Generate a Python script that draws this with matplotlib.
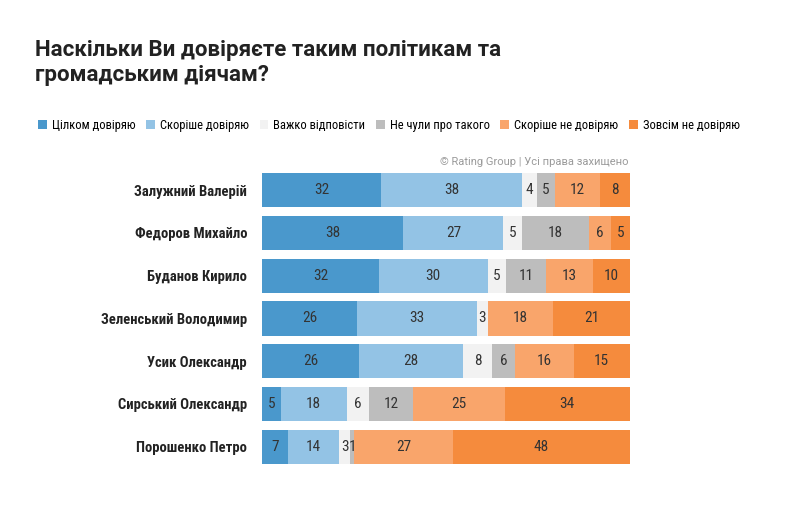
import matplotlib.pyplot as plt
from matplotlib import font_manager
import numpy as np

available = {f.name for f in font_manager.fontManager.ttflist}
narrow = 'Roboto'
for cand in ['Roboto Condensed', 'Liberation Sans Narrow']:
    if cand in available:
        narrow = cand
        break
plt.rcParams['font.family'] = [narrow, 'Roboto', 'DejaVu Sans']

# Data (percent)
names = ['Залужний Валерій', 'Федоров Михайло', 'Буданов Кирило',
         'Зеленський Володимир', 'Усик Олександр', 'Сирський Олександр',
         'Порошенко Петро']
categories = ['Цілком довіряю', 'Скоріше довіряю', 'Важко відповісти',
              'Не чули про такого', 'Скоріше не довіряю', 'Зовсім не довіряю']
full_trust = [32, 38, 32, 26, 26, 5, 7]
rather_trust = [38, 27, 30, 33, 28, 18, 14]
hard_to_say = [4, 5, 5, 3, 8, 6, 3]
never_heard = [5, 18, 11, 0, 6, 12, 1]
rather_distrust = [12, 6, 13, 18, 16, 25, 27]
full_distrust = [8, 5, 10, 21, 15, 34, 48]

colors = ['#4a98cc', '#93c3e5', '#f2f2f2', '#bdbdbd', '#f9a56b', '#f58b3d']

series = np.array([full_trust, rather_trust, hard_to_say, never_heard,
                   rather_distrust, full_distrust], dtype=float)
totals = series.sum(axis=0)
shares = series / totals * 100

fig = plt.figure(figsize=(7.9, 5.18), dpi=100)
ax = fig.add_axes([0.332, 0.0965, 0.465, 0.5775])

y = np.arange(len(names))
left = np.zeros(len(names))
for i, cat in enumerate(categories):
    bars = ax.barh(y, shares[i], left=left, height=0.8, color=colors[i],
                   label=cat, edgecolor='none')
    for j, b in enumerate(bars):
        v = int(series[i][j])
        if v == 0:
            continue
        ax.text(left[j] + shares[i][j] / 2, y[j], str(v), ha='center',
                va='center', fontsize=11, color='#333333')
    left += shares[i]

ax.set_xlim(0, 100)
ax.set_ylim(len(names) - 0.5, -0.5)
ax.set_yticks(y)
ax.set_yticklabels(names, fontsize=10.5, fontweight='bold', color='#222222')
ax.tick_params(axis='y', length=0, pad=11)
ax.set_xticks([])
for s in ax.spines.values():
    s.set_visible(False)

fig.text(0.044, 0.925, 'Наскільки Ви довіряєте таким політикам та\nгромадським діячам?',
         fontsize=16, fontweight='bold', color='#222222', va='top',
         linespacing=1.2, family=['Roboto', 'DejaVu Sans'])

fig.legend(loc='center left', bbox_to_anchor=(0.042, 0.758), ncol=6,
           frameon=False, fontsize=9 if narrow != 'Roboto' else 8,
           handlelength=0.7, handleheight=0.7,
           handletextpad=0.4, columnspacing=0.85, borderaxespad=0)

fig.text(0.795, 0.688, '© Rating Group | Усі права захищено', ha='right',
         va='center', fontsize=8, color='#9a9a9a', family=['Roboto', 'DejaVu Sans'])

plt.savefig('out.png', dpi=100)
